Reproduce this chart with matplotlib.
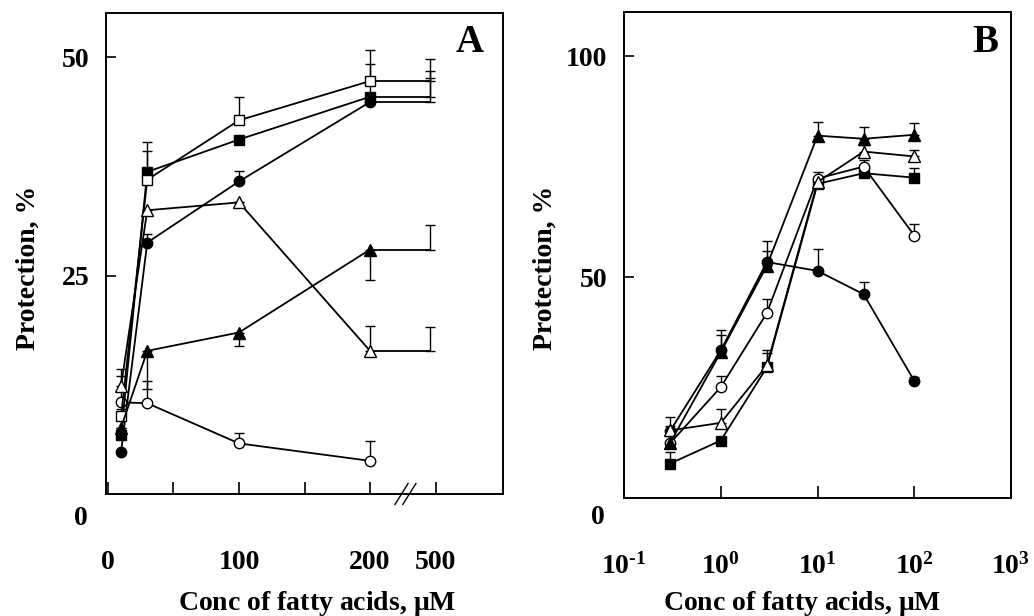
import matplotlib
matplotlib.use('Agg')
import matplotlib.pyplot as plt

plt.rcParams['font.family'] = ['Liberation Serif', 'DejaVu Serif']
plt.rcParams['font.weight'] = 'bold'
plt.rcParams['mathtext.fontset'] = 'custom'
plt.rcParams['mathtext.rm'] = 'Liberation Serif:bold'
plt.rcParams['mathtext.bf'] = 'Liberation Serif:bold'
plt.rcParams['mathtext.it'] = 'Liberation Serif:bold'

# -----------------------------
# Panel A data (linear axis, broken after 200 uM)
# -----------------------------
conc_a = [10, 30, 100, 200]
conc_a_break = 500          # last point, drawn after the axis break
x_break_pos = 246           # where 500 uM sits on the broken axis

a_filled_circle = [4.8, 28.8, 35.8, 44.9]
a_open_circle   = [10.5, 10.4, 5.8, 3.8]
a_filled_square = [6.8, 36.9, 40.6, 45.5]
a_open_square   = [8.9, 36.0, 42.8, 47.3]
a_filled_tri    = [7.6, 16.4, 18.5, 28.0]
a_open_tri      = [12.4, 32.5, 33.4, 16.4]

# one-sided errors (up, down)
a_filled_circle_up = [0.3, 1.0, 1.2, 0.5]
a_open_circle_up   = [3.0, 2.6, 1.2, 2.3]
a_filled_square_up = [0.5, 3.4, 0.0, 3.8]
a_open_square_up   = [0.8, 3.3, 2.7, 3.6]
a_filled_tri_down  = [0.0, 4.4, 1.6, 3.5]
a_open_tri_up      = [1.9, 0.0, 0.0, 2.8]

# values at 500 uM (same level as 200 uM) and their errors
a_500_vals = {'fc': 44.9, 'fs': 45.5, 'os': 47.3, 'ft': 28.0, 'ot': 16.4}
a_500_err  = {'fc': 2.7, 'fs': 3.0, 'os': 2.5, 'ft': 2.8, 'ot': 2.7}

# -----------------------------
# Panel B data (log axis)
# -----------------------------
conc_b = [0.3, 1, 3, 10, 30, 100]
b_filled_tri    = [12.5, 33.0, 52.6, 82.0, 81.3, 82.2]
b_open_tri      = [15.3, 17.0, 30.0, 71.5, 78.4, 77.3]
b_open_circle   = [12.4, 25.1, 41.9, 72.3, 75.0, 59.4]
b_filled_square = [7.8, 13.0, 29.6, 71.1, 73.5, 72.5]
b_filled_circle = [15.2, 33.4, 53.4, 51.4, 46.1, 26.5]

b_filled_tri_err    = [1.5, 3.8, 3.4, 3.2, 2.7, 2.7]
b_open_tri_err      = [1.0, 3.2, 3.4, 1.0, 1.5, 1.5]
b_open_circle_err   = [0.0, 2.4, 3.2, 1.5, 1.5, 2.5]
b_filled_square_err = [2.6, 0.0, 3.1, 0.5, 0.5, 2.2]
b_filled_circle_err = [3.1, 4.7, 4.7, 4.9, 2.8, 0.8]

# marker styles
styles = {
    'fc': dict(marker='o', mfc='black', ms=7.5),
    'oc': dict(marker='o', mfc='white', ms=7.5),
    'fs': dict(marker='s', mfc='black', ms=7.0),
    'os': dict(marker='s', mfc='white', ms=7.0),
    'ft': dict(marker='^', mfc='black', ms=8.5),
    'ot': dict(marker='^', mfc='white', ms=8.5),
}

TICK_FS = 20
LABEL_FS = 20


def draw(ax, x, y, yerr, key):
    ax.errorbar(x, y, yerr=yerr, color='black', ecolor='black', lw=1.3,
                elinewidth=1.0, capsize=3.5, capthick=1.0, mec='black',
                mew=1.0, zorder=3, **styles[key])


fig = plt.figure(figsize=(10.34, 6.16), dpi=100, facecolor='white')
axA = fig.add_axes([0.1025, 0.198, 0.384, 0.781])
axB = fig.add_axes([0.6035, 0.1916, 0.3743, 0.789])

# ============ Panel A ============
zeros = [0] * 4
draw(axA, conc_a, a_filled_circle, [zeros, a_filled_circle_up], 'fc')
draw(axA, conc_a, a_open_circle, [zeros, a_open_circle_up], 'oc')
draw(axA, conc_a, a_filled_square, [zeros, a_filled_square_up], 'fs')
draw(axA, conc_a, a_open_square, [zeros, a_open_square_up], 'os')
draw(axA, conc_a, a_filled_tri, [a_filled_tri_down, zeros], 'ft')
draw(axA, conc_a, a_open_tri, [zeros, a_open_tri_up], 'ot')

# horizontal segments out to 500 uM with upward error bars
for key, val in a_500_vals.items():
    axA.plot([conc_a[-1], x_break_pos], [val, val], color='black', lw=1.3, zorder=2)
    axA.errorbar([x_break_pos], [val], yerr=[[0], [a_500_err[key]]], fmt='none',
                 ecolor='black', elinewidth=1.0, capsize=3.5, capthick=1.0, zorder=2)

axA.set_xlim(-1.5, 301.5)
axA.set_ylim(0, 55.1)
axA.set_xticks([0, 50, 100, 150, 200, 250])
axA.set_xticklabels(['0', '', '100', '', '200', '500'])
axA.set_yticks([25, 50])
axA.set_yticklabels(['25', '50'])
axA.text(-0.045, -0.05, '0', transform=axA.transAxes, ha='right', va='center',
         fontsize=TICK_FS, fontweight='bold')
axA.text(0.917, 0.938, 'A', transform=axA.transAxes, ha='center', va='center',
         fontsize=28, fontweight='bold')

# axis break marks
for dx in (-3, 3):
    axA.plot([227 + dx - 5, 227 + dx + 5], [-1.2, 1.2], color='black', lw=1.0,
             clip_on=False, zorder=5)

# ============ Panel B ============
zb = [0] * 6
draw(axB, conc_b, b_filled_circle, [zb, b_filled_circle_err], 'fc')
draw(axB, conc_b, b_filled_square, [zb, b_filled_square_err], 'fs')
draw(axB, conc_b, b_open_circle, [zb, b_open_circle_err], 'oc')
draw(axB, conc_b, b_open_tri, [zb, b_open_tri_err], 'ot')
draw(axB, conc_b, b_filled_tri, [zb, b_filled_tri_err], 'ft')

axB.set_xscale('log')
axB.set_xlim(0.1, 1000)
axB.set_ylim(0, 110)
axB.set_xticks([0.1, 1, 10, 100, 1000])
axB.set_xticklabels([r'$10^{\text{-}1}$', r'$10^{0}$', r'$10^{1}$', r'$10^{2}$', r'$10^{3}$'])
axB.minorticks_off()
axB.set_yticks([50, 100])
axB.set_yticklabels(['50', '100'])
axB.text(-0.05, -0.041, '0', transform=axB.transAxes, ha='right', va='center',
         fontsize=TICK_FS, fontweight='bold')
axB.text(0.933, 0.938, 'B', transform=axB.transAxes, ha='center', va='center',
         fontsize=28, fontweight='bold')

for ax in (axA, axB):
    for s in ax.spines.values():
        s.set_linewidth(1.4)
    ax.tick_params(axis='x', direction='in', length=9, width=1.2, pad=40,
                   labelsize=TICK_FS, top=False)
    ax.tick_params(axis='y', direction='in', length=7, width=1.2, pad=12,
                   labelsize=TICK_FS, right=False)

# axis titles
fig.text(317 / 1034, 1 - 603 / 616, r'Conc of fatty acids, $\mu$M', ha='center',
         va='center', fontsize=LABEL_FS, fontweight='bold')
fig.text(802 / 1034, 1 - 603 / 616, r'Conc of fatty acids, $\mu$M', ha='center',
         va='center', fontsize=LABEL_FS, fontweight='bold')
fig.text(28 / 1034, 1 - 268 / 616, 'Protection, %', rotation=90, ha='center',
         va='center', fontsize=LABEL_FS, fontweight='bold')
fig.text(545 / 1034, 1 - 268 / 616, 'Protection, %', rotation=90, ha='center',
         va='center', fontsize=LABEL_FS, fontweight='bold')

fig.savefig('out.png', dpi=100, facecolor='white')
